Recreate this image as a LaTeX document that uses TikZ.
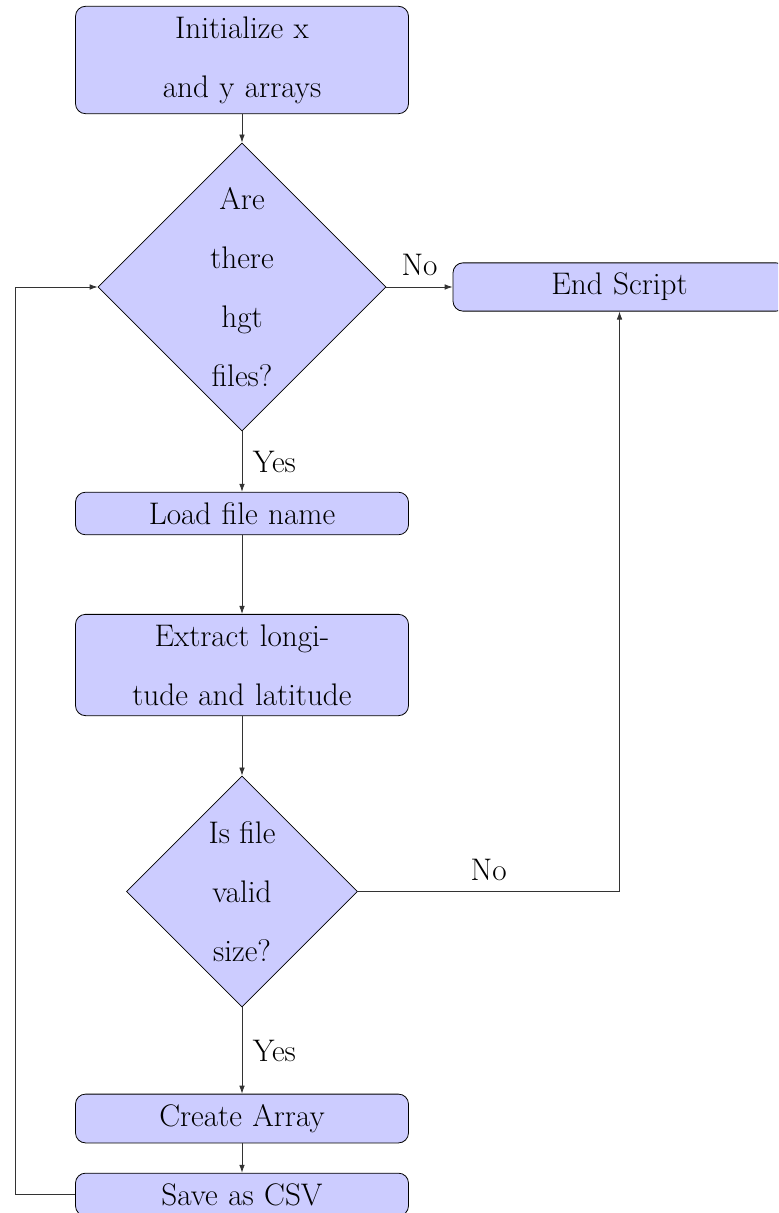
\documentclass[tikz,border=0pt]{standalone}
\usetikzlibrary{shapes.geometric,arrows.meta}

\tikzset{
  flowtext/.style={font=\fontsize{15.6pt}{29.5pt}\selectfont},
  stepbox/.style={flowtext, rectangle, draw=black, fill=blue!20, rounded corners=5pt,
    text width=156.5pt, align=center, inner xsep=5pt, inner ysep=5.1pt},
  decision/.style={flowtext, diamond, draw=black, fill=blue!20, align=center,
    inner sep=0pt, aspect=1},
  flow/.style={draw=black!80, -{Latex[length=4pt,width=2.8pt]}},
  edgelabel/.style={flowtext, inner sep=5.2pt}
}

\begin{document}
\begin{tikzpicture}[x=0.5pt,y=-0.5pt]
  \useasboundingbox (0,0) rectangle (778,1213);
  \clip (0,0) rectangle (778,1213);

  % process steps and decisions
  \node[stepbox] (init) at (242,60) {Initialize x\\and y arrays};
  \node[decision, minimum width=144pt, minimum height=144pt] (files) at (242,287)
    {Are\\there\\hgt\\files?};
  \node[stepbox] (stop) at (619.5,287) {End Script};
  \node[stepbox] (load) at (242,513.5) {Load file name};
  \node[stepbox] (extract) at (242,665) {Extract longi-\\tude and latitude};
  \node[decision, minimum width=115.5pt, minimum height=115.5pt] (valid) at (242,891.5)
    {Is file\\valid\\size?};
  \node[stepbox] (create) at (242,1118.5) {Create Array};
  \node[stepbox] (save) at (242,1194.5) {Save as CSV};

  % connectors
  \draw[flow] (init) -- (files);
  \draw[flow] (files.east) -- node[edgelabel, above] {No} (stop.west);
  \draw[flow] (files.south) -- node[edgelabel, right] {Yes} (load.north);
  \draw[flow] (load) -- (extract);
  \draw[flow] (extract) -- (valid);
  \draw[flow] (valid.east) -- node[edgelabel, above] {No} (valid.east -| stop.south) -- (stop.south);
  \draw[flow] (valid.south) -- node[edgelabel, right] {Yes} (create.north);
  \draw[flow] (create) -- (save);
  \draw[flow] (save.west) -- ++(-60,0) coordinate (loopcorner) |- (files.west);
\end{tikzpicture}
\end{document}
